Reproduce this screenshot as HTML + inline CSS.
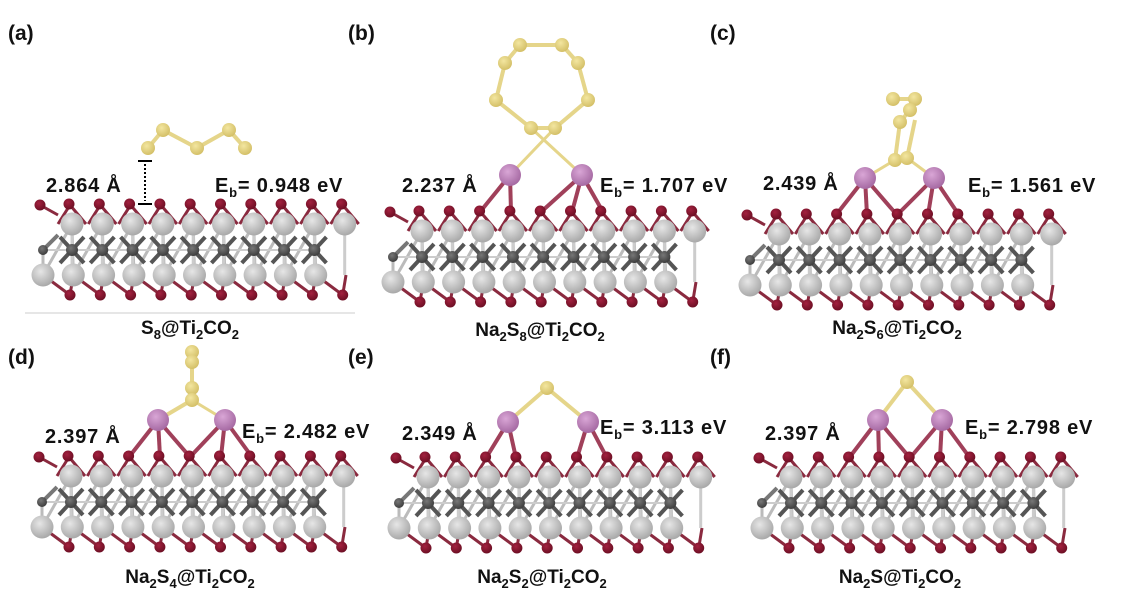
<!DOCTYPE html>
<html><head><meta charset="utf-8"><style>
body{margin:0;background:#fff;width:1125px;height:600px;overflow:hidden}
svg{display:block}
text{font-family:"Liberation Sans",Arial,sans-serif;font-weight:bold;fill:#111}
.l{font-size:20px;letter-spacing:0.8px}
</style></head><body>
<svg id="s" width="1125" height="600" xmlns="http://www.w3.org/2000/svg">
<defs>
<radialGradient id="ti" cx="40%" cy="35%" r="65%"><stop offset="0" stop-color="#e6e6e6"/><stop offset="1" stop-color="#a9a9a9"/></radialGradient>
<radialGradient id="c" cx="40%" cy="35%" r="65%"><stop offset="0" stop-color="#777"/><stop offset="1" stop-color="#3e3e3e"/></radialGradient>
<radialGradient id="o" cx="40%" cy="35%" r="65%"><stop offset="0" stop-color="#a3213f"/><stop offset="1" stop-color="#6d0f24"/></radialGradient>
<radialGradient id="sy" cx="40%" cy="35%" r="65%"><stop offset="0" stop-color="#f3e6a0"/><stop offset="1" stop-color="#d4c068"/></radialGradient>
<radialGradient id="na" cx="40%" cy="35%" r="65%"><stop offset="0" stop-color="#d9a6d6"/><stop offset="1" stop-color="#a66aa3"/></radialGradient>
</defs>
<g id="g"></g>
<line x1="25" y1="313" x2="355" y2="313" stroke="#ccc" stroke-width="1"/>
<text x="8" y="40" font-size="21">(a)</text>
<text x="348" y="40" font-size="21">(b)</text>
<text x="710" y="40" font-size="21">(c)</text>
<text x="8" y="364" font-size="21">(d)</text>
<text x="348" y="364" font-size="21">(e)</text>
<text x="710" y="364" font-size="21">(f)</text>

<text class="l" x="46" y="192">2.864 Å</text>
<text class="l" x="215" y="192">E<tspan font-size="13" dy="5">b</tspan><tspan dy="-5">= 0.948 eV</tspan></text>
<text class="l" x="402" y="192">2.237 Å</text>
<text class="l" x="600" y="192">E<tspan font-size="13" dy="5">b</tspan><tspan dy="-5">= 1.707 eV</tspan></text>
<text class="l" x="763" y="190">2.439 Å</text>
<text class="l" x="968" y="192">E<tspan font-size="13" dy="5">b</tspan><tspan dy="-5">= 1.561 eV</tspan></text>
<text class="l" x="45" y="443">2.397 Å</text>
<text class="l" x="242" y="438">E<tspan font-size="13" dy="5">b</tspan><tspan dy="-5">= 2.482 eV</tspan></text>
<text class="l" x="402" y="440">2.349 Å</text>
<text class="l" x="600" y="434">E<tspan font-size="13" dy="5">b</tspan><tspan dy="-5">= 3.113 eV</tspan></text>
<text class="l" x="765" y="440">2.397 Å</text>
<text class="l" x="965" y="434">E<tspan font-size="13" dy="5">b</tspan><tspan dy="-5">= 2.798 eV</tspan></text>

<text x="190" y="334" font-size="19" text-anchor="middle">S<tspan font-size="13" dy="5">8</tspan><tspan dy="-5">@Ti</tspan><tspan font-size="13" dy="5">2</tspan><tspan dy="-5">CO</tspan><tspan font-size="13" dy="5">2</tspan></text>
<text x="540" y="336" font-size="19" text-anchor="middle">Na<tspan font-size="13" dy="5">2</tspan><tspan dy="-5">S</tspan><tspan font-size="13" dy="5">8</tspan><tspan dy="-5">@Ti</tspan><tspan font-size="13" dy="5">2</tspan><tspan dy="-5">CO</tspan><tspan font-size="13" dy="5">2</tspan></text>
<text x="897" y="334" font-size="19" text-anchor="middle">Na<tspan font-size="13" dy="5">2</tspan><tspan dy="-5">S</tspan><tspan font-size="13" dy="5">6</tspan><tspan dy="-5">@Ti</tspan><tspan font-size="13" dy="5">2</tspan><tspan dy="-5">CO</tspan><tspan font-size="13" dy="5">2</tspan></text>
<text x="190" y="583" font-size="19" text-anchor="middle">Na<tspan font-size="13" dy="5">2</tspan><tspan dy="-5">S</tspan><tspan font-size="13" dy="5">4</tspan><tspan dy="-5">@Ti</tspan><tspan font-size="13" dy="5">2</tspan><tspan dy="-5">CO</tspan><tspan font-size="13" dy="5">2</tspan></text>
<text x="542" y="583" font-size="19" text-anchor="middle">Na<tspan font-size="13" dy="5">2</tspan><tspan dy="-5">S</tspan><tspan font-size="13" dy="5">2</tspan><tspan dy="-5">@Ti</tspan><tspan font-size="13" dy="5">2</tspan><tspan dy="-5">CO</tspan><tspan font-size="13" dy="5">2</tspan></text>
<text x="900" y="583" font-size="19" text-anchor="middle">Na<tspan font-size="13" dy="5">2</tspan><tspan dy="-5">S@Ti</tspan><tspan font-size="13" dy="5">2</tspan><tspan dy="-5">CO</tspan><tspan font-size="13" dy="5">2</tspan></text>

<g stroke="#000" stroke-width="2">
<line x1="138" y1="161" x2="152" y2="161"/><line x1="138" y1="204" x2="152" y2="204"/>
<line x1="145" y1="164" x2="145" y2="201" stroke-dasharray="2,2"/>
</g>
</svg>
<script>
var g=document.getElementById('g');var NS='http://www.w3.org/2000/svg';
var bonds=[],atoms=[];
function L(a,b,c,d,col,w){bonds.push([a,b,c,d,col,w||4]);}
function A(x,y,r,f){atoms.push([x,y,r,f]);}
function slab(ox,oy){
 var s=30.3;
 for(var i=0;i<10;i++){
  var tx=ox+29+s*i, bx=ox+s*i;
  var ry=oy, ty=oy+19, cy=oy+45, by=oy+70, dy=oy+90;
  L(tx-2,ry,tx-14,ty,'#8a2a3f',3);L(tx-2,ry,tx+14,ty,'#8a2a3f',3);
  if(i<9){L(tx,ty,bx,by,'#bbb',3);L(tx,ty,bx+s,by,'#bbb',3);L(tx,cy,tx-s,cy,'#ccc',2);}
  L(bx,by,bx+27,dy,'#8a2a3f',3);L(bx+s,by,bx+27,dy,'#8a2a3f',3);
  L(tx,ty,tx,by,'#ccc',3);
 }
 for(var i=0;i<9;i++){var tx=ox+29+s*i;L(tx-12,oy+32,tx+12,oy+58,'#555',4);L(tx+12,oy+32,tx-12,oy+58,'#555',4);}
 L(ox-3,oy,ox+15,oy+10,'#8a2a3f',3);L(ox,oy+45,ox+15,oy+30,'#777',4);L(ox,oy+45,ox,oy+70,'#bbb',3);
 A(ox-3,oy,5.5,'o');
 for(var i=0;i<10;i++){var tx=ox+29+s*i,bx=ox+s*i;
  A(tx-3,oy-1,5.5,'o');A(tx,oy+19,11.5,'ti');if(i<9)A(tx,oy+45,6,'c');A(bx,oy+70,11.5,'ti');A(bx+27,oy+90,5.5,'o');}
 A(ox,oy+45,5,'c');
}
slab(43,205);slab(393,212);slab(750,215);slab(42,457);slab(399,458);slab(762,458);
function S(x,y,r){A(x,y,r||7,'sy');}
function N(x,y){A(x,y,11,'na');}
function chain(p,col,w){for(var i=0;i<p.length-1;i++)L(p[i][0],p[i][1],p[i+1][0],p[i+1][1],col||'#e5d58a',w||4);}
var pa=[[148,148],[163,130],[197,148],[229,130],[245,148]];chain(pa);pa.forEach(function(p){S(p[0],p[1]);});
var pb=[[531,128],[496,100],[505,63],[520,45],[562,45],[578,63],[588,100],[555,128]];chain(pb.concat([[531,128]]));
L(531,128,582,175,'#e5d58a',3);L(555,128,510,175,'#e5d58a',3);
pb.forEach(function(p){S(p[0],p[1]);});
function naB(nx,ny,xs,oy){xs.forEach(function(x){L(nx,ny,x,oy,'#a0405a',4);});}
naB(510,175,[480,511],212);naB(582,175,[541,572,603],212);N(510,175);N(582,175);
chain([[893,99],[915,99],[910,110],[900,122],[895,160],[907,158],[915,120]]);
L(895,160,865,178,'#e5d58a',3);L(907,158,934,178,'#e5d58a',3);
[[893,99],[915,99],[910,110],[900,122],[895,160],[907,158]].forEach(function(p){S(p[0],p[1]);});
naB(865,178,[836,867,897],215);naB(934,178,[897,928,959],215);N(865,178);N(934,178);
chain([[192,352],[192,362],[192,388],[192,400],[158,420]]);L(192,400,225,420,'#e5d58a',3);
[[192,352],[192,362],[192,388],[192,400]].forEach(function(p){S(p[0],p[1]);});
naB(158,420,[129,160,190],457);naB(225,420,[190,221,252],457);N(158,420);N(225,420);
L(547,388,508,422,'#e5d58a',4);L(547,388,588,422,'#e5d58a',4);S(547,388);
naB(508,422,[486,516],458);naB(588,422,[577,607],458);N(508,422);N(588,422);
L(907,382,878,420,'#e5d58a',4);L(907,382,942,420,'#e5d58a',4);S(907,382);
naB(878,420,[849,879,910],458);naB(942,420,[910,940,970],458);N(878,420);N(942,420);
bonds.forEach(function(b){var l=document.createElementNS(NS,'line');l.setAttribute('x1',b[0]);l.setAttribute('y1',b[1]);l.setAttribute('x2',b[2]);l.setAttribute('y2',b[3]);l.setAttribute('stroke',b[4]);l.setAttribute('stroke-width',b[5]);g.appendChild(l);});
atoms.forEach(function(a){var c=document.createElementNS(NS,'circle');c.setAttribute('cx',a[0]);c.setAttribute('cy',a[1]);c.setAttribute('r',a[2]);c.setAttribute('fill','url(#'+a[3]+')');g.appendChild(c);});
</script>
</body></html>
